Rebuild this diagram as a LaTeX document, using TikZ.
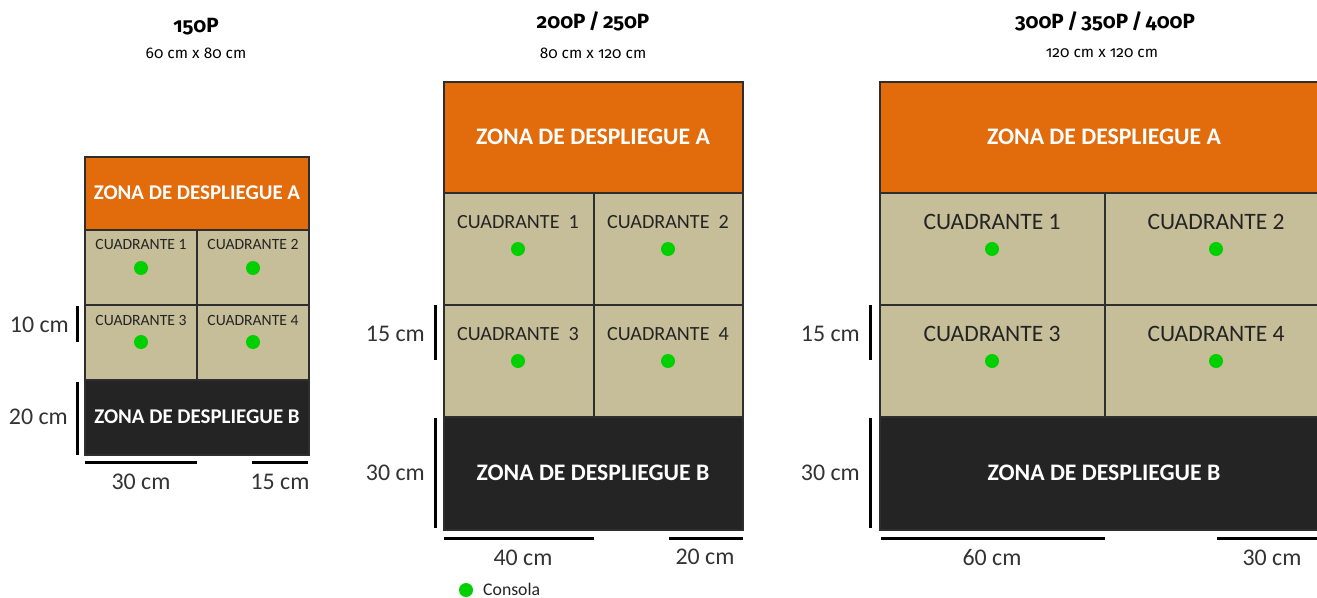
\documentclass[tikz,border=0pt]{standalone}
\usepackage{fontspec}
\setmainfont{Carlito}
\newfontfamily\titlefont[Numbers=OldStyle]{Fira Sans}
\definecolor{zoneA}{HTML}{E26B0C}
\definecolor{zoneB}{HTML}{242424}
\definecolor{quad}{HTML}{C5BE98}
\definecolor{edge}{HTML}{2E2E2E}
\definecolor{dot}{HTML}{00D000}
\definecolor{dimtext}{HTML}{333333}
\tikzset{
  box/.style={draw=edge, line width=1.4bp, inner sep=0pt, outer sep=0pt, anchor=north west},
  zA/.style={box, fill=zoneA},
  zB/.style={box, fill=zoneB},
  qd/.style={box, fill=quad},
  zlabel/.style={text=white, font=\bfseries\fontsize{#1}{#1}\selectfont, inner sep=0pt},
  qlabel/.style={text=zoneB, font=\fontsize{#1}{#1}\selectfont, inner sep=0pt},
  console/.style={circle, fill=dot, inner sep=0pt, minimum size=14bp},
  dimline/.style={line width=3bp, draw=black},
  dimlabel/.style={text=dimtext, font=\fontsize{24}{24}\selectfont, inner sep=0pt},
  ttl/.style={font=\titlefont\bfseries\fontsize{20.7}{20.7}\selectfont, inner sep=0pt},
  subttl/.style={font=\titlefont\fontsize{15.5}{15.5}\selectfont, inner sep=0pt},
}
\begin{document}
\begin{tikzpicture}[x=1bp, y=-1bp]
\useasboundingbox (0,0) rectangle (1317,598);
\clip (0,0) rectangle (1317,598);
\fill[white] (0,0) rectangle (1317,598);

% ---------- Diagram 1: 150P ----------
\node[ttl] (t1) at (196,27) {150P};
\node[subttl] (s1) at (196,53) {60 cm x 80 cm};
\node[zA, minimum width=224bp, minimum height=73bp] (a1) at (85,157) {};
\node[qd, minimum width=112bp, minimum height=75bp] (q11) at (85,230) {};
\node[qd, minimum width=112bp, minimum height=75bp] (q12) at (197,230) {};
\node[qd, minimum width=112bp, minimum height=75bp] (q13) at (85,305) {};
\node[qd, minimum width=112bp, minimum height=75bp] (q14) at (197,305) {};
\node[zB, minimum width=224bp, minimum height=75bp] (b1) at (85,380) {};
\node[zlabel=21] (la1) at (197,193) {ZONA DE DESPLIEGUE A};
\node[zlabel=21] (lb1) at (197,417) {ZONA DE DESPLIEGUE B};
\node[qlabel=15.7] (lq11) at (141,244) {CUADRANTE 1};
\node[qlabel=15.7] (lq12) at (253,244) {CUADRANTE 2};
\node[qlabel=15.7] (lq13) at (141,320) {CUADRANTE 3};
\node[qlabel=15.7] (lq14) at (253,320) {CUADRANTE 4};
\node[console] (c11) at (141,268) {};
\node[console] (c12) at (253,268) {};
\node[console] (c13) at (141,342) {};
\node[console] (c14) at (253,342) {};
\draw[dimline] (77,306) -- (77,342);
\draw[dimline] (77,382) -- (77,455);
\draw[dimline] (85,462) -- (197,462);
\draw[dimline] (252,462) -- (308,462);
\node[dimlabel, anchor=east] (d11) at (69,325) {10 cm};
\node[dimlabel, anchor=east] (d12) at (68,417) {20 cm};
\node[dimlabel] (d13) at (141,482) {30 cm};
\node[dimlabel] (d14) at (280,482) {15 cm};

% ---------- Diagram 2: 200P/250P ----------
\node[ttl] (t2) at (593,21) {200P\,/\,250P};
\node[subttl] (s2) at (593,53) {80 cm x 120 cm};
\node[zA, minimum width=299bp, minimum height=111bp] (a2) at (444,82) {};
\node[qd, minimum width=150bp, minimum height=112bp] (q21) at (444,193) {};
\node[qd, minimum width=149bp, minimum height=112bp] (q22) at (594,193) {};
\node[qd, minimum width=150bp, minimum height=112bp] (q23) at (444,305) {};
\node[qd, minimum width=149bp, minimum height=112bp] (q24) at (594,305) {};
\node[zB, minimum width=299bp, minimum height=113bp] (b2) at (444,417) {};
\node[zlabel=23.8] (la2) at (593,137) {ZONA DE DESPLIEGUE A};
\node[zlabel=23.8] (lb2) at (593,473) {ZONA DE DESPLIEGUE B};
\node[qlabel=20.2] (lq21) at (518,222) {CUADRANTE\ \ 1};
\node[qlabel=20.2] (lq22) at (668,222) {CUADRANTE\ \ 2};
\node[qlabel=20.2] (lq23) at (518,334) {CUADRANTE\ \ 3};
\node[qlabel=20.2] (lq24) at (668,334) {CUADRANTE\ \ 4};
\node[console] (c21) at (518,249) {};
\node[console] (c22) at (668,249) {};
\node[console] (c23) at (518,361) {};
\node[console] (c24) at (668,361) {};
\draw[dimline] (435,305) -- (435,360);
\draw[dimline] (435,418) -- (435,528);
\draw[dimline] (444,538) -- (594,538);
\draw[dimline] (669,538) -- (743,538);
\node[dimlabel, anchor=east] (d21) at (425,334) {15 cm};
\node[dimlabel, anchor=east] (d22) at (425,473) {30 cm};
\node[dimlabel] (d23) at (523,558) {40 cm};
\node[dimlabel] (d24) at (705,557) {20 cm};
\node[console] (leg) at (466,590) {};
\node[qlabel=17.8, anchor=west] (legt) at (483,589) {Consola};

% ---------- Diagram 3: 300P/350P/400P ----------
\node[ttl] (t3) at (1105,21) {300P\,/\,350P\,/\,400P};
\node[subttl] (s3) at (1102,53) {120 cm x 120 cm};
\node[zA, minimum width=450bp, minimum height=111bp] (a3) at (880,82) {};
\node[qd, minimum width=225bp, minimum height=112bp] (q31) at (880,193) {};
\node[qd, minimum width=225bp, minimum height=112bp] (q32) at (1105,193) {};
\node[qd, minimum width=225bp, minimum height=112bp] (q33) at (880,305) {};
\node[qd, minimum width=225bp, minimum height=112bp] (q34) at (1105,305) {};
\node[zB, minimum width=450bp, minimum height=113bp] (b3) at (880,417) {};
\node[zlabel=23.8] (la3) at (1104,137) {ZONA DE DESPLIEGUE A};
\node[zlabel=23.8] (lb3) at (1104,473) {ZONA DE DESPLIEGUE B};
\node[qlabel=23.6] (lq31) at (992,222) {CUADRANTE 1};
\node[qlabel=23.6] (lq32) at (1216,222) {CUADRANTE 2};
\node[qlabel=23.6] (lq33) at (992,334) {CUADRANTE 3};
\node[qlabel=23.6] (lq34) at (1216,334) {CUADRANTE 4};
\node[console] (c31) at (992,249) {};
\node[console] (c32) at (1216,249) {};
\node[console] (c33) at (992,361) {};
\node[console] (c34) at (1216,361) {};
\draw[dimline] (870,305) -- (870,360);
\draw[dimline] (870,418) -- (870,528);
\draw[dimline] (881,538) -- (1105,538);
\draw[dimline] (1217,538) -- (1330,538);
\node[dimlabel, anchor=east] (d31) at (860,334) {15 cm};
\node[dimlabel, anchor=east] (d32) at (860,473) {30 cm};
\node[dimlabel] (d33) at (992,558) {60 cm};
\node[dimlabel] (d34) at (1272,558) {30 cm};
\end{tikzpicture}
\end{document}
